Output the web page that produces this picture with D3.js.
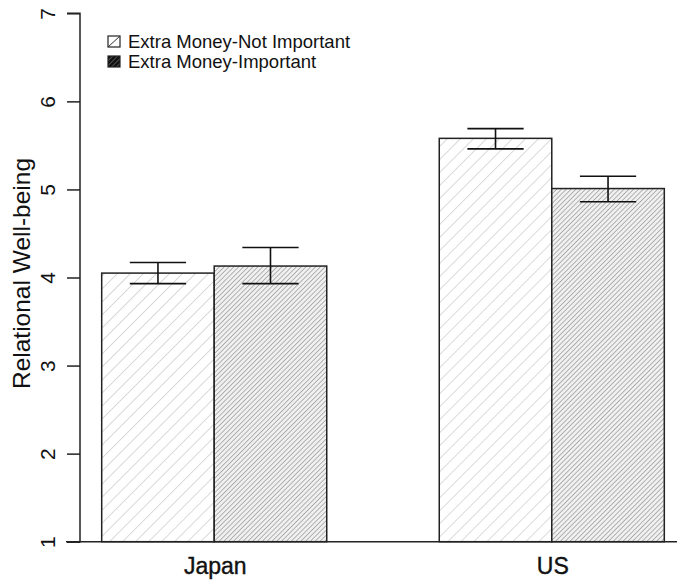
<!DOCTYPE html>
<html><head><meta charset="utf-8">
<script src="https://cdn.jsdelivr.net/npm/d3@7"></script>
<style>body{margin:0;background:#fff}svg{display:block}text{font-family:"Liberation Sans",Arial,sans-serif;fill:#111}</style>
</head><body>
<svg id="c" width="677" height="580"></svg>
<script>
const countries = ["Japan", "US"];
const seriesNames = ["Extra Money-Not Important", "Extra Money-Important"];
const meanNotImportant = [4.05, 5.58];
const meanImportant = [4.13, 5.01];
const errNotImportant = [[3.93, 4.17], [5.46, 5.69]];
const errImportant = [[3.93, 4.34], [4.86, 5.15]];
const yTicks = [1, 2, 3, 4, 5, 6, 7];

const svg = d3.select("#c");
const defs = svg.append("defs");
function hatch(id, spacing, color, width, bg) {
  const p = defs.append("pattern").attr("id", id).attr("patternUnits", "userSpaceOnUse")
    .attr("width", spacing).attr("height", spacing).attr("patternTransform", "rotate(45)");
  p.append("rect").attr("width", spacing).attr("height", spacing).attr("fill", bg);
  p.append("line").attr("x1", 0).attr("y1", 0).attr("x2", 0).attr("y2", spacing)
    .attr("stroke", color).attr("stroke-width", width);
}
hatch("p1", 9.2, "#bdbdbd", 1.1, "#fff");
hatch("p2", 3.4, "#a3a3a3", 1.6, "#f0f0f0");
hatch("p3", 3.4, "#888", 1.0, "#111");

const y = d3.scaleLinear().domain([1, 7]).range([541.7, 13.3]);
const x = d3.scaleLinear().domain([1, 6]).range([101.7, 664.3]);
const bw = x(2) - x(1);

const data = [];
countries.forEach((c, g) => {
  data.push({g, j: 0, v: meanNotImportant[g], e: errNotImportant[g]});
  data.push({g, j: 1, v: meanImportant[g], e: errImportant[g]});
});
const pos = d => 1 + d.g * 3 + d.j;

// baseline
svg.append("line").attr("x1", 66).attr("x2", 677).attr("y1", y(1)).attr("y2", y(1))
  .attr("stroke", "#222").attr("stroke-width", 1.5);

svg.selectAll("rect.bar").data(data).join("rect").attr("class", "bar")
  .attr("x", d => x(pos(d))).attr("width", bw)
  .attr("y", d => y(d.v)).attr("height", d => y(1) - y(d.v))
  .attr("fill", d => d.j === 0 ? "url(#p1)" : "url(#p2)")
  .attr("stroke", "#222").attr("stroke-width", 1.5);

// error bars
const eg = svg.append("g").attr("stroke", "#111").attr("stroke-width", 1.6);
data.forEach(d => {
  const cx = x(pos(d) + 0.5), hw = bw / 4;
  eg.append("line").attr("x1", cx).attr("x2", cx).attr("y1", y(d.e[0])).attr("y2", y(d.e[1]));
  d.e.forEach(v => eg.append("line").attr("x1", cx - hw).attr("x2", cx + hw).attr("y1", y(v)).attr("y2", y(v)));
});

// y axis
const ax = svg.append("g").attr("transform", "translate(80,0)")
  .call(d3.axisLeft(y).tickValues(yTicks).tickSize(13).tickPadding(0).tickFormat(d3.format("d")));
ax.select(".domain").attr("stroke", "#222").attr("stroke-width", 1.5).attr("d", `M-13,${y(1)}H0V${y(7)}H-13`);
ax.selectAll(".tick line").attr("stroke", "#222").attr("stroke-width", 1.5);
ax.selectAll(".tick text").attr("transform", "translate(-32,0) rotate(-90)")
  .attr("text-anchor", "middle").attr("dy", "0.35em").attr("x", 0)
  .style("font-size", "21px").style("fill", "#111");

svg.append("text").attr("transform", `translate(30,${(y(1) + y(7)) / 2 - 4}) rotate(-90)`)
  .attr("text-anchor", "middle").style("font-size", "24.5px").text("Relational Well-being");

// x labels
countries.forEach((c, g) => {
  svg.append("text").attr("x", x(1 + g * 3 + 1) + 1).attr("y", 574).attr("text-anchor", "middle")
    .style("font-size", "23px").style("font-weight", "500").style("stroke", "#111").style("stroke-width", 0.4).text(c);
});

// legend
const lg = svg.append("g");
[0, 1].forEach(i => {
  const yy = 36 + i * 20;
  lg.append("rect").attr("x", 108).attr("y", yy).attr("width", 12).attr("height", 11)
    .attr("fill", i === 0 ? "#fff" : "url(#p3)").attr("stroke", "#222").attr("stroke-width", 1.2);
  if (i === 0) lg.append("line").attr("x1", 108).attr("y1", yy + 11).attr("x2", 120).attr("y2", yy)
    .attr("stroke", "#333").attr("stroke-width", 1);
  lg.append("text").attr("x", 128).attr("y", yy + 12).style("font-size", "18.5px").text(seriesNames[i]);
});
</script>
</body></html>
